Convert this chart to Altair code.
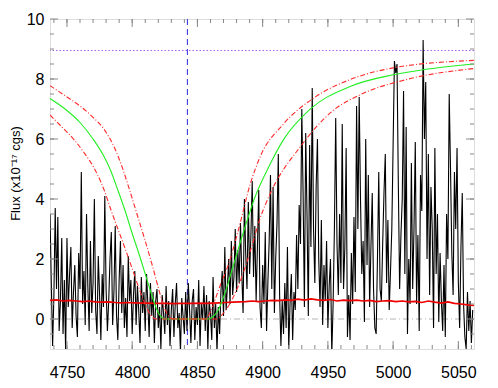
import altair as alt
import pandas as pd

# ---------------- data ----------------
wave_start = 4737.0
wave_step = 1.0
flux = [
    3.5, 1.2, -0.9, 0.8, 3.7, 1.0, 3.4, -0.4, 0.6, 2.7,
    -0.5, 1.3, -1.1, 2.7, 0.4, 1.5, 2.4, -0.3, 0.9, 1.8,
    0.1, -0.6, 2.2, 1.0, 4.9, 0.5, 1.6, -0.2, 3.5, 1.1,
    -0.4, 2.6, 0.2, 1.2, 4.0, 0.3, -0.5, 2.1, 0.8, -0.7,
    1.5, 0.4, 4.1, 1.0, -0.4, 0.6, 2.0, 2.9, -0.2, 0.9,
    3.1, 0.1, -0.7, 1.3, 2.6, 0.2, 1.8, -0.3, 0.7, -0.6,
    2.1, 0.6, 1.3, -0.5, 0.8, 1.6, -0.2, 1.1, 0.3, -0.8,
    1.4, 0.2, 0.9, -0.4, 1.5, 0.5, -0.6, 1.2, 0.1, 0.9,
    -0.8, 0.6, 1.0, -0.3, 0.4, -1.0, 0.8, 0.2, -0.5, 1.1,
    -0.2, 0.6, -0.9, 0.3, 1.0, -0.6, 0.5, 1.2, -0.3, 0.2,
    -1.1, 0.7, 0.1, -0.5, 0.9, -0.4, 1.2, 0.3, -0.8, 0.6,
    1.0, -0.7, 0.4, -0.2, 1.3, -0.9, 0.5, 0.0, 1.1, -0.4,
    0.8, -1.0, 0.6, 0.2, -0.7, 1.4, -0.3, 0.5, -1.1, 0.4,
    -0.5, 0.9, 1.6, 0.1, 2.4, 0.3, 1.1, 2.0, 0.5, 2.6,
    0.8, 1.4, 3.0, 0.9, 2.3, 1.2, 3.2, 1.5, 0.2, 4.0,
    2.2, 1.0, 3.9, 1.5, 2.8, 4.6, 1.4, 3.1, 0.6, 2.4,
    4.3, 0.4, -0.3, 1.8, 0.5, 2.9, -0.4, 1.2, 2.6, 4.8,
    1.0, 4.4, 0.2, 2.0, 3.2, 5.5, 0.8, -0.9, 0.6, -0.5,
    1.2, -0.3, 2.4, -1.0, 0.5, 1.5, -0.7, 0.9, 0.3, 2.8,
    1.0, 3.8, 2.5, 7.0, 4.2, 0.4, 6.2, 3.5, 0.1, 5.8,
    2.4, 7.7, 3.0, 1.2, 4.4, 6.0, 2.0, 0.4, 3.3, -0.2,
    1.8, 0.6, 2.6, -0.3, 1.1, 2.0, -1.2, 0.5, 3.0, 6.7,
    2.5, 0.8, 3.5, 1.2, 6.5, 1.0, 2.4, 5.7, -0.6, 0.8,
    -0.7, 2.2, 0.5, 3.4, 0.9, 7.1, 3.0, 7.4, 4.0, 1.5,
    2.6, -0.1, 6.0, 1.8, 4.8, 0.4, 2.4, 4.2, 1.0, -0.3,
    -0.5, 2.0, 4.9, 1.0, 0.6, 2.5, 4.2, 5.5, 1.2, 3.3,
    0.3, 1.6, 3.0, 5.8, 8.6, 8.2, 8.5, 4.5, 1.0, 2.8,
    4.0, 7.6, 1.5, 6.4, -0.5, 2.0, 0.5, 5.2, 1.0, 3.0,
    5.9, 0.5, 2.8, -0.4, 4.8, 3.6, 9.3, 6.0, 7.9, 2.0,
    5.5, 0.8, 4.4, 3.0, -0.3, 5.7, 1.5, 3.5, -0.1, 2.2,
    0.6, -0.4, 1.8, -0.6, 3.5, 2.0, 7.5, 5.0, 2.2, 0.8,
    4.9, 3.0, 5.7, 1.2, -0.3, 2.4, 4.2, 0.5, -0.6, -1.0,
    0.9, -0.4, 0.6, -0.8, 0.3,
]
wave = [wave_start + wave_step * i for i in range(len(flux))]

err_start = 4737.0
err_step = 5.0
err = [
    0.62, 0.64, 0.60, 0.62, 0.60, 0.58, 0.60, 0.57, 0.56, 0.57,
    0.55, 0.54, 0.55, 0.54, 0.53, 0.53, 0.52, 0.52, 0.52, 0.51,
    0.52, 0.52, 0.52, 0.53, 0.52, 0.53, 0.54, 0.55, 0.56, 0.57,
    0.58, 0.60, 0.58, 0.60, 0.62, 0.61, 0.64, 0.62, 0.66, 0.63,
    0.67, 0.64, 0.62, 0.65, 0.60, 0.63, 0.61, 0.63, 0.60, 0.62,
    0.58, 0.60, 0.61, 0.58, 0.60, 0.57, 0.59, 0.55, 0.60, 0.56,
    0.53, 0.57, 0.52, 0.50, 0.47, 0.45,
]
err_wave = [err_start + err_step * i for i in range(len(err))]

green_w = [4737, 4750, 4760, 4770, 4778, 4783, 4789, 4795, 4800, 4805, 4810, 4815,
           4819, 4822, 4825, 4840, 4858, 4861, 4866, 4871, 4878, 4886, 4894, 4905,
           4916, 4936, 4967, 5000, 5023, 5062]
green_f = [7.35, 6.95, 6.55, 6.0, 5.45, 5.0, 4.3, 3.55, 2.85, 2.2, 1.5, 0.8,
           0.3, 0.08, 0.0, 0.0, 0.0, 0.05, 0.3, 0.85, 1.85, 3.0, 4.05, 5.1,
           5.98, 6.98, 7.75, 8.14, 8.31, 8.5]

red_hi_w = [4737, 4750, 4760, 4770, 4778, 4786, 4792, 4798, 4804, 4810, 4815, 4820,
            4824, 4828, 4831, 4845, 4856, 4858, 4862, 4866, 4874, 4881, 4890.5, 4898,
            4916, 4941, 4967, 5000, 5062]
red_hi_f = [7.78, 7.4, 7.1, 6.72, 6.35, 5.75, 5.1, 4.3, 3.45, 2.6, 1.85, 1.05,
            0.45, 0.1, 0.0, 0.0, 0.0, 0.08, 0.45, 0.95, 1.85, 2.9, 4.5, 5.4,
            6.5, 7.42, 7.98, 8.37, 8.62]

red_lo_w = [4737, 4745, 4755, 4763, 4773, 4778.5, 4784, 4789.5, 4795, 4800, 4805, 4809,
            4812.5, 4815.5, 4818, 4840, 4864, 4866, 4869, 4876, 4884, 4891.5, 4898, 4906,
            4929, 4954, 4975, 5010, 5062]
red_lo_f = [6.8, 6.45, 6.0, 5.55, 4.85, 4.3, 3.6, 2.95, 2.3, 1.68, 1.05, 0.6,
            0.25, 0.06, 0.0, 0.0, 0.0, 0.03, 0.15, 0.6, 1.4, 2.4, 3.35, 4.2,
            5.75, 6.95, 7.48, 7.98, 8.35]

vline_x = [4842.3]
hline_top = [8.95]
hline_zero = [0.0]

x_labels = [4750, 4800, 4850, 4900, 4950, 5000, 5050]
x_minor = [4740 + 10 * i for i in range(33)]
y_labels = [0, 2, 4, 6, 8, 10]
y_minor = [-0.5 + 0.5 * i for i in range(21)]

x_domain = [4737, 5062]
y_domain = [-1, 10]

# ---------------- chart ----------------
W, H = 424, 330
FRAME = "#888888"
FONT = "Liberation Sans"


def X(field):
    return alt.X(
        f"{field}:Q",
        scale=alt.Scale(domain=x_domain, nice=False, zero=False),
        axis=alt.Axis(values=x_labels, ticks=False, tickSize=0, domain=False, grid=False,
                      labelFontSize=16, labelPadding=15, labelColor="black", labelFont=FONT,
                      format="d", title=None),
    )


def Y(field):
    return alt.Y(
        f"{field}:Q",
        scale=alt.Scale(domain=y_domain, nice=False, zero=False),
        axis=alt.Axis(values=y_labels, ticks=False, tickSize=0, domain=False, grid=False,
                      labelFontSize=16, labelPadding=6, labelColor="black", labelFont=FONT,
                      format="d", title="Flux (x10\u207b\u00b9\u2077 cgs)", titleFont=FONT,
                      titleFontSize=13, titleFontWeight="normal", titleColor="black",
                      titleX=-28, titleY=154),
    )


spec_df = pd.DataFrame({"x": wave, "y": flux})
err_df = pd.DataFrame({"x": err_wave, "y": err})
green_df = pd.DataFrame({"x": green_w, "y": green_f})
rhi_df = pd.DataFrame({"x": red_hi_w, "y": red_hi_f})
rlo_df = pd.DataFrame({"x": red_lo_w, "y": red_lo_f})

zero_line = alt.Chart(pd.DataFrame({"y": hline_zero})).mark_rule(
    color="#b4b4b4", strokeWidth=1, strokeDash=[6, 3, 1, 3]).encode(y=Y("y"))
top_line = alt.Chart(pd.DataFrame({"y": hline_top})).mark_rule(
    color="#a862ee", strokeWidth=1, strokeDash=[1.5, 2]).encode(y=Y("y"))
v_line = alt.Chart(pd.DataFrame({"x": vline_x})).mark_rule(
    color="#2a2ae0", strokeWidth=1, strokeDash=[6, 4]).encode(x=X("x"))

spectrum = alt.Chart(spec_df).mark_line(
    color="black", strokeWidth=1.1, clip=True).encode(x=X("x"), y=Y("y"))
error = alt.Chart(err_df).mark_line(
    color="#ee0000", strokeWidth=1.7, clip=True).encode(x=X("x"), y=Y("y"))
green = alt.Chart(green_df).mark_line(
    color="#22ee22", strokeWidth=1.1, interpolate="monotone", clip=True).encode(x=X("x"), y=Y("y"))
red_hi = alt.Chart(rhi_df).mark_line(
    color="#ff2a2a", strokeWidth=1.1, strokeDash=[5, 2, 1, 2], interpolate="monotone",
    clip=True).encode(x=X("x"), y=Y("y"))
red_lo = alt.Chart(rlo_df).mark_line(
    color="#ff2a2a", strokeWidth=1.1, strokeDash=[5, 2, 1, 2], interpolate="monotone",
    clip=True).encode(x=X("x"), y=Y("y"))

MAJ, MIN = 8, 4


def xticks(values, length, top):
    pos = length / 2 if top else H - length / 2
    return alt.Chart(pd.DataFrame({"x": values})).mark_tick(
        orient="vertical", size=length, thickness=1, color=FRAME, opacity=1).encode(
        x=X("x"), y=alt.value(pos))


def yticks(values, length, right):
    pos = W - length / 2 if right else length / 2
    return alt.Chart(pd.DataFrame({"y": values})).mark_tick(
        orient="horizontal", size=length, thickness=1, color=FRAME, opacity=1).encode(
        y=Y("y"), x=alt.value(pos))


ticks = [
    xticks(x_minor, MIN, False), xticks(x_minor, MIN, True),
    xticks(x_labels, MAJ, False), xticks(x_labels, MAJ, True),
    yticks(y_minor, MIN, False), yticks(y_minor, MIN, True),
    yticks(y_labels, MAJ, False), yticks(y_labels, MAJ, True),
]

chart = alt.layer(
    zero_line, top_line, v_line, spectrum, error, green, red_hi, red_lo, *ticks
).properties(
    width=W, height=H,
    autosize=alt.AutoSizeParams(type="none"),
    padding={"left": 42, "top": 11, "right": 16, "bottom": 30},
).configure_view(
    stroke=FRAME, strokeWidth=1
).configure(background="white")

chart.save("out.html", embed_options={"renderer": "svg", "actions": False})
